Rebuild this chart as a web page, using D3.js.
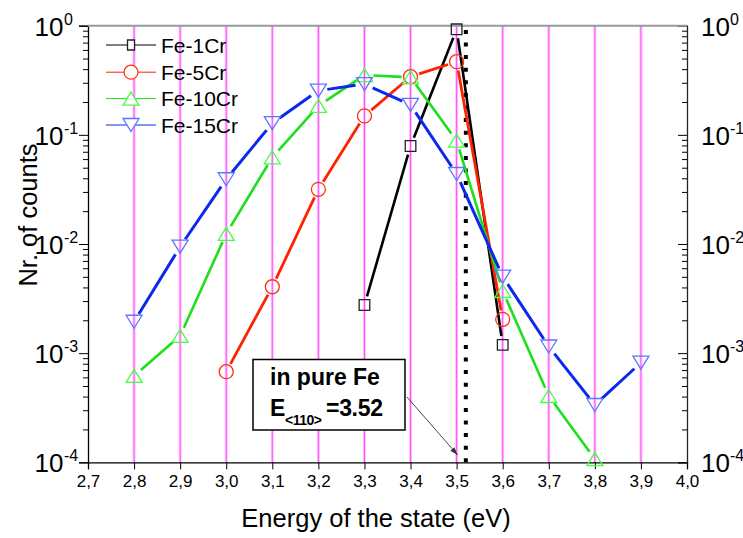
<!DOCTYPE html>
<html><head><meta charset="utf-8">
<script src="https://cdn.jsdelivr.net/npm/d3@7"></script>
<style>
body{margin:0;background:#fff;}
svg{display:block;font-family:"Liberation Sans",Arial,sans-serif;}
</style></head>
<body><svg id="c" width="743" height="538"></svg>
<script>
// ---- data ----
const xTicks = [2.7,2.8,2.9,3.0,3.1,3.2,3.3,3.4,3.5,3.6,3.7,3.8,3.9,4.0];
const gridX = [2.8,2.9,3.0,3.1,3.2,3.3,3.4,3.5,3.6,3.7,3.8,3.9];
const yDecades = [1,0.1,0.01,0.001,0.0001];
const yExps = ["0","-1","-2","-3","-4"];
const seriesNames = ["Fe-1Cr","Fe-5Cr","Fe-10Cr","Fe-15Cr"];
const xFe1 = [3.3,3.4,3.5,3.6];
const yFe1 = [0.00276,0.079,0.927,0.00119];
const xFe5 = [3.0,3.1,3.2,3.3,3.4,3.5,3.6];
const yFe5 = [0.000676,0.00406,0.0317,0.149,0.341,0.468,0.00204];
const xFe10 = [2.8,2.9,3.0,3.1,3.2,3.3,3.4,3.5,3.6,3.7,3.8];
const yFe10 = [0.000618,0.00144,0.0124,0.0623,0.184,0.353,0.337,0.0884,0.00371,0.000405,0.000107];
const xFe15 = [2.8,2.9,3.0,3.1,3.2,3.3,3.4,3.5,3.6,3.7,3.8,3.9];
const yFe15 = [0.00194,0.00945,0.0392,0.128,0.254,0.292,0.188,0.0438,0.00502,0.00115,0.000335,0.000818];
const pureFeE = 3.52;
const annotLines = ["in pure Fe","E","<110>","=3.52"];

// ---- drawing ----
const svg = d3.select("#c");
const L=88, R=687, T=25.7, B=462.3;
const x = d3.scaleLinear().domain([2.7,4.0]).range([L,R]);
const y = d3.scaleLog().domain([1e-4,1]).range([B,T]);

// grid
const g = svg.append("g");
g.selectAll("line.gw").data(gridX).enter().append("line")
  .attr("x1",d=>x(d)).attr("x2",d=>x(d)).attr("y1",T).attr("y2",B)
  .attr("stroke","#ffc0ff").attr("stroke-width",3);
g.selectAll("line.gc").data(gridX).enter().append("line")
  .attr("x1",d=>x(d)).attr("x2",d=>x(d)).attr("y1",T).attr("y2",B)
  .attr("stroke","#ff50ff").attr("stroke-width",1);

// axes
const minor = [];
for (let e=-4;e<0;e++) for (let m=2;m<=9;m++) minor.push(m*Math.pow(10,e));
const fontAx = "Liberation Sans, Arial, sans-serif";

const xAx = svg.append("g").attr("transform",`translate(0,${B})`)
  .call(d3.axisBottom(x).tickValues(xTicks).tickSize(7).tickPadding(6)
    .tickFormat(d=>d3.format(".1f")(d).replace(".",",")));
xAx.selectAll("text").attr("font-size",17).attr("font-family",fontAx).attr("fill","#000");
xAx.select(".domain").attr("stroke","#000").attr("stroke-width",1.3);

const yAxL = svg.append("g").attr("transform",`translate(${L},0)`)
  .call(d3.axisLeft(y).tickValues(yDecades).tickSize(9).tickFormat(""));
yAxL.select(".domain").attr("stroke","#000").attr("stroke-width",1.3);
svg.append("g").attr("transform",`translate(${L},0)`)
  .call(d3.axisLeft(y).tickValues(minor).tickSize(5).tickFormat(""))
  .select(".domain").remove();

const yAxR = svg.append("g").attr("transform",`translate(${R},0)`)
  .call(d3.axisRight(y).tickValues(yDecades).tickSize(-9).tickFormat(""));
yAxR.select(".domain").attr("stroke","#222").attr("stroke-width",1.3);
svg.append("g").attr("transform",`translate(${R},0)`)
  .call(d3.axisRight(y).tickValues(minor).tickSize(-5).tickFormat(""))
  .select(".domain").remove();

// top border
svg.append("line").attr("x1",L).attr("x2",R).attr("y1",T).attr("y2",T)
  .attr("stroke","#999").attr("stroke-width",2);

// y labels
yDecades.forEach((d,i)=>{
  const yy = y(d)+10;
  svg.append("text").attr("x",63.5).attr("y",yy).attr("text-anchor","end")
    .attr("font-size",26).text("10");
  svg.append("text").attr("x",64).attr("y",yy-11).attr("font-size",16).text(yExps[i]);
  svg.append("text").attr("x",701).attr("y",yy).attr("font-size",26).text("10");
  svg.append("text").attr("x",730).attr("y",yy-11).attr("font-size",16).text(yExps[i]);
});

// axis titles
svg.append("text").attr("x",376).attr("y",527).attr("text-anchor","middle")
  .attr("font-size",25.5).text("Energy of the state (eV)");
svg.append("text").attr("transform","translate(37,215) rotate(-90)").attr("text-anchor","middle")
  .attr("font-size",25.5).text("Nr. of counts");

// dotted vertical line
svg.append("line").attr("x1",x(pureFeE)).attr("x2",x(pureFeE)).attr("y1",B).attr("y2",T+2)
  .attr("stroke","#000").attr("stroke-width",4).attr("stroke-dasharray","4,8.6");

// series
const series = [
  {name:seriesNames[0], xs:xFe1, ys:yFe1, line:"#000000", mk:"#222222", shape:"square", lw:2.6},
  {name:seriesNames[1], xs:xFe5, ys:yFe5, line:"#ff2200", mk:"#ff3010", shape:"circle", lw:2.8},
  {name:seriesNames[2], xs:xFe10, ys:yFe10, line:"#1be01b", mk:"#40ff40", shape:"up", lw:2.6},
  {name:seriesNames[3], xs:xFe15, ys:yFe15, line:"#0a28f0", mk:"#5a78ff", shape:"down", lw:3}
];
function markerPath(shape){
  if(shape==="square") return "M-5.3,-5.3H5.3V5.3H-5.3Z";
  if(shape==="circle") return d3.symbol(d3.symbolCircle, Math.PI*7*7)();
  if(shape==="up") return "M0,-6.5L8,6.5L-8,6.5Z";
  return "M0,6.5L8,-6.5L-8,-6.5Z";
}
const gap = 9;
series.forEach(s=>{
  const pts = s.xs.map((v,i)=>[x(v), y(s.ys[i])]);
  const gs = svg.append("g");
  for(let i=0;i<pts.length-1;i++){
    const [x1,y1]=pts[i],[x2,y2]=pts[i+1];
    const dx=x2-x1, dy=y2-y1, len=Math.hypot(dx,dy);
    if(len<=2*gap) continue;
    const ux=dx/len, uy=dy/len;
    gs.append("line").attr("x1",x1+ux*gap).attr("y1",y1+uy*gap)
      .attr("x2",x2-ux*gap).attr("y2",y2-uy*gap)
      .attr("stroke",s.line).attr("stroke-width",s.lw);
  }
  gs.selectAll("path").data(pts).enter().append("path")
    .attr("d",markerPath(s.shape)).attr("transform",d=>`translate(${d[0]},${d[1]})`)
    .attr("fill","none").attr("stroke",s.mk).attr("stroke-width",1.3);
});

// legend
const legY = [45,72.2,98.6,125];
series.forEach((s,i)=>{
  const lg = svg.append("g");
  lg.append("line").attr("x1",106).attr("x2",156).attr("y1",legY[i]).attr("y2",legY[i])
    .attr("stroke",s.line).attr("stroke-width",1);
  let d = markerPath(s.shape);
  if(s.shape==="square") d="M-3.5,-5H3.5V5H-3.5Z";
  lg.append("path").attr("d",d).attr("transform",`translate(131,${legY[i]})`)
    .attr("fill","#fff").attr("stroke",s.mk).attr("stroke-width",1.3);
  lg.append("text").attr("x",161).attr("y",legY[i]+7.8).attr("font-size",21).text(s.name);
});

// annotation box
svg.append("rect").attr("x",253).attr("y",359.5).attr("width",152).attr("height",70.5)
  .attr("fill","#fff").attr("stroke","#000").attr("stroke-width",1.5);
svg.append("text").attr("x",270).attr("y",385).attr("font-size",23).attr("font-weight","bold")
  .text(annotLines[0]);
svg.append("text").attr("x",270).attr("y",415.5).attr("font-size",23).attr("font-weight","bold").text(annotLines[1]);
svg.append("text").attr("x",285).attr("y",425).attr("font-size",14).attr("font-weight","bold")
  .attr("letter-spacing",-0.5).text(annotLines[2]);
svg.append("text").attr("x",326).attr("y",415.5).attr("font-size",23).attr("font-weight","bold")
  .attr("letter-spacing",-0.3).text(annotLines[3]);

// arrow
const ax1=407, ay1=397, ax2=x(3.5)+1, ay2=455;
svg.append("line").attr("x1",ax1).attr("y1",ay1).attr("x2",ax2).attr("y2",ay2)
  .attr("stroke","#333").attr("stroke-width",0.9);
const ang = Math.atan2(ay2-ay1, ax2-ax1);
const hl=8, hw=2.6;
const bx=ax2-hl*Math.cos(ang), by=ay2-hl*Math.sin(ang);
svg.append("path").attr("d",`M${ax2},${ay2}L${bx+hw*Math.sin(ang)},${by-hw*Math.cos(ang)}L${bx-hw*Math.sin(ang)},${by+hw*Math.cos(ang)}Z`)
  .attr("fill","#333");
</script></body></html>
